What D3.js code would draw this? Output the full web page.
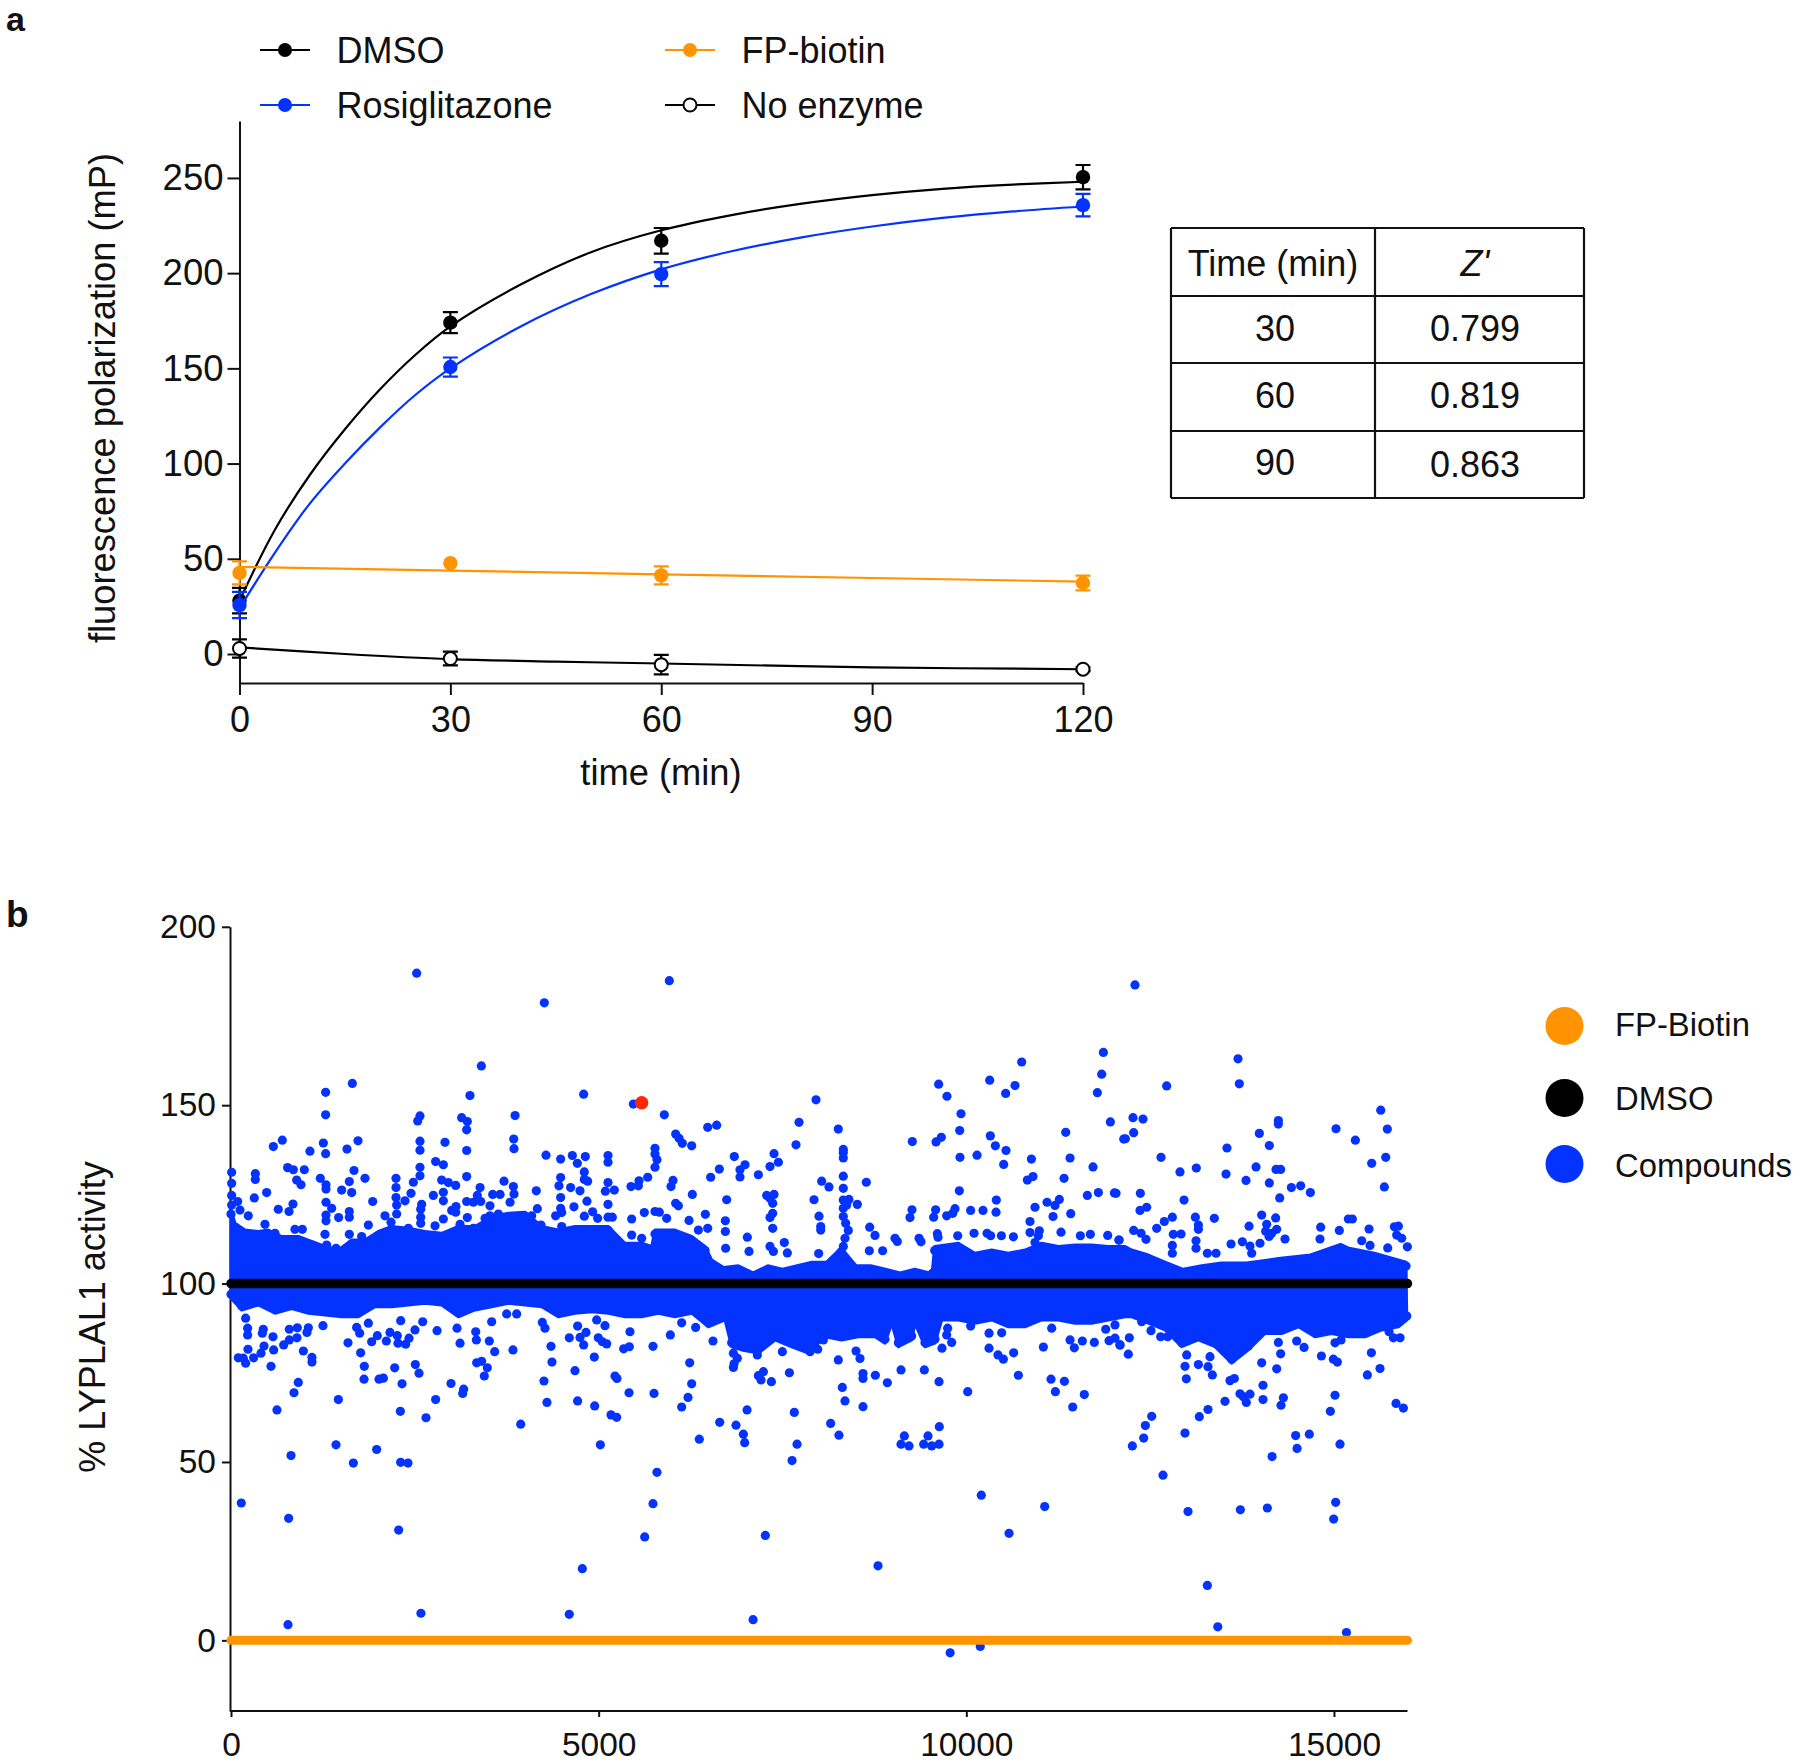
<!DOCTYPE html>
<html><head><meta charset="utf-8">
<style>
html,body{margin:0;padding:0;background:#fff;}
svg{display:block;}
text{font-family:"Liberation Sans",Arial,sans-serif;fill:#111;}
</style>
<script src="https://cdn.jsdelivr.net/npm/d3@7"></script>
</head><body><svg id="c" width="1800" height="1764"></svg>
<script>
// ---------- panel a data ----------
const timeTicks=[0,30,60,90,120];
const fpTicks=[0,50,100,150,200,250];
const sampleTimes=[0,30,60,120];
const dmsoMean=[28,174,217,250.4];
const dmsoErr=[6.7,5.5,6.7,6.4];
const rosiMean=[25.7,150.7,199.5,235.7];
const rosiErr=[6.9,5,6.3,5.9];
const fpMean=[42.6,47.7,41.3,37.3];
const fpErr=[6,0,4.7,3.9];
const noEnzMean=[2.9,-2.4,-5.6,-8];
const noEnzErr=[4.8,3.6,5.1,1];
const curveTimes=[0,5,10,15,20,25,30,40,50,60,70,80,90,100,110,120];
const dmsoCurve=[28,65,94,118,139,157,172,194,211,222.5,230.5,236.5,241,244.3,246.5,248];
const rosiCurve=[24,53,79,100,119,136,150,172,189,202,211.5,218.8,224.5,229,232.4,235];
const fpCurveTimes=[0,30,60,90,120];
const fpCurve=[45.8,43.8,41.8,39.9,38];
const noEnzCurveTimes=[0,15,30,45,60,90,120];
const noEnzCurve=[3.5,0,-2.7,-4,-5,-7,-8];
const tableHead=["Time (min)","Z'"];
const tableTime=["30","60","90"];
const tableZ=["0.799","0.819","0.863"];

// ---------- panel b data ----------
const activityTicks=[0,50,100,150,200];
const compoundTicks=[0,5000,10000,15000];
const controlRange=[0,16000];
const dmsoLevel=100, fpBiotinLevel=0;
const hitPoint=[5585,150.7];
// edge of the solid cloud of compounds
const bandUpper=[[0,120.6],[54,116.9],[190,115],[371,114.6],[507,115],[689,113.2],[916,113.2],[1097,111.8],[1278,110.4],[1460,109.4],[1641,112.2],[1822,112.2],[2004,114.6],[2185,116],[2412,115.5],[2638,114.6],[2865,114.1],[3092,116],[3319,116],[3545,118.8],[3772,119.7],[3999,120],[4225,116],[4451,115],[4678,116],[4905,116],[5132,116],[5358,111.3],[5585,111.3],[5721,110.4],[5766,115],[6038,115],[6265,113.2],[6447,110.4],[6537,106.6],[6700,104.5],[6900,105],[7100,103],[7300,105],[7500,104],[7700,105],[7900,106],[8100,106],[8300,110],[8500,105],[8700,105],[8900,104],[9100,103],[9300,104],[9500,103],[9540,104],[9570,110.4],[9892,111.3],[10118,108.5],[10345,109.4],[10572,108.5],[10798,109.4],[11025,111.3],[11252,110.4],[11479,110.8],[11705,110.8],[11932,110.4],[12159,110.4],[12249,109.4],[12475,108],[12702,106],[12950,104],[13200,105],[13470,105.8],[13810,105.8],[14245,107],[14680,108],[15090,111],[15190,110],[15550,108.5],[15980,106]];
const bandLower=[[0,95.9],[145,92.6],[371,94],[598,91.7],[825,93],[1052,91.7],[1278,91.2],[1505,90.7],[1732,90.7],[1958,93.5],[2185,93.5],[2412,94],[2638,94.5],[2865,94],[3092,90.7],[3319,92.6],[3545,93.5],[3772,94.5],[3999,94],[4225,93.5],[4451,90.7],[4678,91.7],[4905,92.1],[5132,91.7],[5358,90.7],[5585,90.7],[5812,91.7],[6038,90.7],[6265,91.7],[6492,87.9],[6718,89.8],[6809,82.3],[6945,81.4],[7172,80.5],[7399,84.2],[7625,82.3],[7852,80.5],[8079,85.1],[8305,84.2],[8531,85.1],[8758,85.1],[8894,83.3],[8985,88.9],[9076,82.3],[9257,84.2],[9302,88.9],[9438,82.3],[9574,83.3],[9665,89.8],[9892,89.8],[10118,88.9],[10345,89.8],[10572,87.9],[10798,87.9],[11025,89.8],[11252,89.8],[11479,88.9],[11705,88.9],[11932,89.8],[12159,90.7],[12249,90.7],[12475,88.9],[12702,87],[12929,82.3],[13156,84.2],[13382,82.3],[13609,77.7],[13836,81.4],[14062,86],[14289,86],[14516,87.9],[14742,85.1],[14969,86],[15196,85.1],[15423,85.1],[15649,87],[15876,87.9],[15990,89.8]];
const compoundsHigh1=[[2525,187],[3405,161],[1650,156.1],[1287,153.6],[3250,152.7],[1287,147.3],[3863,147.1],[2570,147],[2539,145.6],[3137,146.5],[3214,145.4],[3205,143.1],[698,140.2],[576,138.4],[1256,139.4],[1727,140],[1577,137.7],[1074,137.1],[1287,136.4],[2570,139.9],[2570,137.4],[2910,139.6],[3205,137.3],[3845,140.5],[3849,137.8],[2783,134.2],[2888,133.3],[2570,132.6],[770,132.5],[848,131.9],[997,131.9],[9,131.2],[331,130.8],[331,129.2],[9,128.1],[1673,131.7],[1215,129.5],[1822,129.5],[2244,129.5],[2570,130.2],[2480,128.4],[2865,129],[2956,128.3],[3056,127.5],[3205,130],[3713,128.7],[3840,127.2],[3387,126.9],[893,129],[952,127.7],[1292,127.7],[1292,126.5],[1609,128.6],[1505,126.2],[1641,125.5],[2244,126.9],[485,125.5],[2448,125.3],[2752,124.7],[2888,125.6],[2888,123.2],[3559,125],[3659,125],[3849,125.1],[317,124],[9,124.7],[9,122],[90,123],[1927,123],[1292,122.8],[2244,124.1],[2253,122],[2366,123.2],[3205,123],[3296,122.8],[3396,123],[3350,124.7],[3795,122.8],[843,122.3],[643,120.8],[789,120.2],[1369,121.1],[1609,120.2],[1609,118.6],[1292,119.2],[1292,117.6],[1464,118.5],[2593,122.2],[2580,120.8],[2580,118.6],[2580,116.9],[3060,121.6],[3001,120.5],[3056,120],[2888,118.1],[3522,121.8],[3522,119],[3455,118.3],[3214,118.5],[2094,119],[2253,119.5],[235,119],[122,120.6],[462,116.6],[1868,116.4],[2176,117.2],[2775,116.2],[3115,116.6],[3636,119.5],[870,115.2],[970,115.2],[1278,113.8],[1609,113.8],[598,114.1],[2412,115.5],[3522,115.5],[3296,115.5],[1777,113.2],[1301,110.8],[1428,109.9]];
const compoundsHigh2=[[5961,184.9],[4261,178.7],[4796,153.1],[5472,150.3],[5893,147.3],[7956,151.5],[7725,145.2],[6605,144.4],[6483,143.8],[6047,141.9],[6093,140.7],[6138,139.3],[6265,138.6],[7684,138.9],[5766,137.9],[5766,136.3],[5793,134.7],[5766,132.6],[4284,136],[4483,134.9],[4642,135.9],[4819,135.6],[4710,133.7],[5127,135.9],[5127,134],[4805,131.3],[4805,129.2],[4850,128.7],[4483,129.7],[4460,127.4],[4619,126.9],[4746,126],[4152,126],[5127,128.3],[5091,125.9],[5213,126.2],[5440,127.2],[5540,127.4],[5549,128.8],[5667,129.8],[6011,128.9],[5984,127.2],[6274,125],[6523,129.8],[6641,132.1],[6845,135.6],[6990,133.3],[6922,131.9],[6922,129.9],[7172,130.5],[7330,132.8],[7385,136.4],[7444,134],[8033,128.7],[4483,124.1],[4841,123.1],[5127,122.2],[6047,122.5],[6084,121.8],[6741,123.5],[7285,124.7],[7385,125],[7330,123.9],[7367,122.5],[7929,123.5],[4166,121],[4664,121.5],[4483,121.1],[4415,119],[4497,119.9],[4805,118.9],[4918,120.1],[4986,118.3],[5127,118.6],[5186,118.6],[5449,118.1],[5621,119.9],[5766,120.2],[5825,120],[5925,118.3],[6229,117.7],[6451,119.4],[6723,117.6],[6723,114.6],[7367,119.7],[7330,118.5],[7367,115.5],[7997,118.9],[8020,116],[8020,115],[7022,113],[7525,111.5],[7566,108.6],[7330,110.4],[7376,109],[7045,109],[6727,109.9],[7992,108.4],[4216,116.4],[4089,119],[4497,116],[5449,113.6],[5585,112.7],[6483,115.5],[6356,115]];
const compoundsHigh3=[[11864,164.8],[10753,162.1],[11841,158.7],[9624,155.9],[10318,157],[10662,155.5],[10535,153.3],[9737,152.5],[11782,153.5],[9928,147.6],[11959,145.3],[8259,143.3],[9910,142.9],[11352,142.4],[10327,141.4],[9266,139.8],[9588,139.7],[9660,141],[10395,138.6],[10540,137.3],[12141,140.5],[8327,137.6],[8327,135.2],[8327,136.7],[9914,135.4],[10146,136],[10508,133.4],[10885,134.9],[11411,135.2],[11723,132.7],[8327,130.1],[8640,128.4],[8132,127.1],[10907,130],[10830,129],[11329,129.5],[8327,126.7],[9905,126],[11646,124.7],[11796,125.5],[12014,125.4],[8327,123.4],[8404,123.6],[8518,122.2],[8327,121.1],[8373,122],[8327,118.8],[8359,116.9],[8395,114.9],[8350,112.7],[8327,110.4],[10408,123.4],[11098,122.8],[11265,123.6],[11206,121.9],[10934,121.4],[9261,120.7],[9234,118.5],[9583,120.7],[9556,118.6],[9846,121],[9815,119.7],[9733,119],[10059,120.5],[10227,120.5],[10404,120],[11179,118.8],[11420,119.6],[10866,117.4],[8686,115.8],[8758,113.5],[9030,112.7],[9062,111.8],[9357,112.7],[9384,111.7],[9606,114],[9615,113],[9883,113.4],[10105,114.1],[10282,114.1],[10331,113.4],[10477,113.4],[10640,113.1],[10866,114.3],[10993,114.8],[10980,113.4],[10934,111.5],[11288,114.4],[11551,113.4],[11687,113.8],[11923,113.5],[12077,112.2],[8681,109.2],[8862,109.2]];
const compoundsHigh4=[[12294,183.7],[13695,163],[12725,155.4],[13713,156],[15636,148.6],[12267,146.5],[12403,146.1],[14244,145.7],[14244,144.7],[15028,143.4],[15726,143.3],[12276,142.3],[12163,140.6],[13985,142.1],[14121,138.7],[15291,140.2],[13545,138],[12648,135.4],[15704,135.4],[15513,133.7],[12906,131.3],[13128,132.4],[13532,130.7],[13940,132.7],[14212,132],[14275,132],[13804,128.9],[14121,128.2],[14421,126.9],[14547,127.4],[14679,125.5],[15685,127.1],[12367,125.3],[12036,125.3],[12961,123.4],[14262,124],[12453,121.4],[12362,120.5],[12802,118.6],[12693,117.4],[12589,115.5],[13115,118.6],[13156,116.4],[13156,115.2],[13373,118.3],[14017,119.2],[14207,118.4],[13845,116.1],[14085,116.6],[14071,114.7],[14221,115.2],[14153,114.1],[14117,113.2],[15196,118.1],[15250,118.1],[14819,115.8],[15073,114.9],[15477,115.3],[15822,115.9],[15876,116.1],[15853,113.6],[15921,112.7],[14334,112.5],[14810,112.5],[12276,114.9],[12376,114.1],[12444,112.4],[12815,113.8],[12920,113.9],[12802,110.7],[12802,108.5],[13124,112],[13124,109.9],[13278,108.5],[13396,108.5],[13600,111.1],[13754,111.7],[13858,110.5],[13881,108.5],[13994,111.3],[15377,112],[15490,110.7],[15731,110],[15998,110.3],[12076,112.2]];
const compoundsLow1=[[140,38.5],[784,34.2],[2280,30.9],[816,51.8],[1428,54.8],[1664,49.7],[1981,53.5],[2307,49.9],[2407,49.7],[3940,60.6],[2652,62.4],[2303,64.2],[625,64.6],[1460,67.5],[857,69.4],[915,72.3],[2783,67.5],[3151,69.2],[3164,70.4],[2992,72],[2326,71.9],[1809,73.2],[2013,73.2],[2072,73.5],[2557,74.9],[2507,77.3],[2226,76.4],[1813,76.8],[544,76.8],[199,77.7],[99,79.2],[308,79.2],[1101,78],[1101,79.3],[984,81.1],[580,81.4],[408,80.5],[449,82.5],[231,81.6],[167,79.1],[716,82.8],[793,84.2],[897,84.8],[571,85.1],[426,86.1],[439,87.2],[793,87.2],[902,87.6],[1033,86.3],[1052,87.6],[1251,88.2],[226,85.6],[226,87.5],[199,90.3],[1591,83.4],[1763,80.6],[1750,86.1],[1709,87.7],[1868,88.9],[1913,83.7],[1990,85.4],[2113,83.9],[2162,86.3],[2262,85.4],[2271,83.3],[2375,83],[2421,84.7],[2502,87],[2607,89.3],[2308,89.6],[2802,86.8],[3074,87.5],[3115,83.3],[3328,86.5],[3337,84.2],[3513,83.9],[3586,80.9],[3835,81.4],[3341,77.8],[3409,78.2],[3486,76.4],[3445,74.1],[3545,89.3],[3749,91.5],[3885,91.5],[775,4.4],[2583,7.6]];
const compoundsLow2=[[4778,20.1],[5626,29],[7267,29.4],[5739,38.3],[5793,47.1],[5023,54.8],[7630,50.4],[7698,55],[6369,56.4],[6986,55.4],[6968,57.8],[6868,60.3],[6646,61.1],[7018,64.6],[7661,63.9],[6129,65.4],[6215,68.1],[6265,71.9],[5168,63.2],[5245,62.5],[4946,65.7],[4714,67.1],[4297,66.7],[4256,72.7],[4678,75.6],[4365,78],[4941,79.4],[5222,74.1],[5249,73.4],[5413,69.4],[5753,69.2],[6238,77.8],[4352,82.4],[4601,84.8],[4746,84.9],[4796,82.8],[4828,86.3],[4995,84.8],[5050,83.7],[5109,83.1],[5340,81.7],[5417,82.3],[5739,82.4],[5426,86.5],[5975,85.6],[6555,83.9],[6832,80.5],[6886,79.1],[6841,77.5],[6832,76.5],[7172,74.2],[7208,73],[7240,75.3],[7349,72.5],[7594,75],[4270,87.5],[4234,89.1],[4714,88.1],[4973,89.8],[5086,88.2],[6129,89],[6319,87.7],[8056,84.2],[7158,80],[7498,80.9],[7875,80.9],[7979,81.6],[4600,7.3],[7100,5.8]];
const compoundsLow3=[[8799,20.9],[10581,30],[11066,37.5],[10204,40.7],[8268,57.5],[8155,60.8],[9633,59.9],[9157,57.3],[9479,57.3],[9112,55],[9221,54.5],[9420,55],[9529,54.5],[9629,55],[8595,65.5],[8350,67.1],[11447,65.4],[11605,68.9],[11211,69.7],[10019,69.7],[8314,70.9],[11152,73.2],[11334,72.6],[9629,72.5],[8926,72.2],[8595,74.8],[8595,73.4],[8763,74.3],[9112,75.8],[9429,75.8],[10708,74.3],[8259,78.6],[8554,79],[8500,81.1],[10431,80],[10504,78.8],[10644,80.6],[10309,81.9],[11048,82.2],[9669,81.9],[9746,87.5],[9733,85.6],[9801,83.5],[11469,82],[11411,84.2],[11578,83.9],[11941,84],[12022,84.7],[12090,82.8],[10309,86.1],[10481,86.2],[10059,88.1],[12022,88.4],[11896,87.2],[11741,83.5],[11161,87.5],[9780,-3.5],[10190,-1.7]];
const compoundsLow4=[[13278,15.4],[13015,36.1],[13727,36.6],[14094,37.1],[15023,38.7],[14996,34],[12675,46.3],[12258,54.5],[12412,56.7],[12435,60.2],[12521,62.8],[12974,58.1],[13169,62.7],[13287,64.7],[13518,67],[13808,66.7],[13722,69.1],[13858,69],[13768,68.3],[14035,67.5],[14035,71.5],[14280,65.9],[14312,68],[14158,51.5],[14479,57.4],[14665,57.8],[14498,53.8],[15082,55],[14951,64.2],[15014,68.7],[15844,66.4],[15944,65.1],[15454,74.4],[15626,76.2],[13586,72.8],[13645,73.4],[13346,74.4],[12992,73.3],[12974,76.8],[13156,77.3],[13287,76.7],[13314,79.5],[14017,77.8],[14221,76.1],[14275,80.3],[14593,82.1],[14493,83.9],[14829,79.7],[14992,78.8],[15046,78],[15509,80.6],[15014,83.4],[15096,84.2],[12203,80.2],[12090,82.8],[12217,84.8],[12385,89.3],[12512,86.8],[12643,85.1],[12738,85.1],[12997,80],[15899,84.8],[15808,84.8],[15749,86.5],[14244,83.5],[13420,3.8],[15170,2.2]];

// ---------- colours ----------
const BLUE="#0433FF", ORANGE="#FF9300", RED="#FF2600", BLACK="#000";
const svg=d3.select("#c");

function styleAxis(g,size,w){
  g.selectAll("path.domain").attr("stroke","#111").attr("stroke-width",w);
  g.selectAll(".tick line").attr("stroke","#111").attr("stroke-width",w);
  g.selectAll(".tick text").attr("font-size",size).attr("font-family",'"Liberation Sans",Arial,sans-serif').attr("fill","#111");
}

// ---------- panel a ----------
const xA=d3.scaleLinear().domain([0,120]).range([239.5,1083]);
const yA=d3.scaleLinear().domain([-15.23,279.9]).range([683,121]);
const gA=svg.append("g");
const axAy=gA.append("g").attr("transform",`translate(${xA(0)},0)`).call(d3.axisLeft(yA).tickValues(fpTicks).tickSize(12).tickPadding(4).tickSizeOuter(0));
styleAxis(axAy,36.5,2);
const axAx=gA.append("g").attr("transform",`translate(0,${yA.range()[0]})`).call(d3.axisBottom(xA).tickValues(timeTicks).tickSize(12).tickPadding(11).tickSizeOuter(0));
styleAxis(axAx,36,2);

const seriesA=[
 {name:"No enzyme",mean:noEnzMean,err:noEnzErr,ct:noEnzCurveTimes,c:noEnzCurve,col:BLACK,hollow:true,smooth:true},
 {name:"DMSO",mean:dmsoMean,err:dmsoErr,ct:curveTimes,c:dmsoCurve,col:BLACK,smooth:true},
 {name:"Rosiglitazone",mean:rosiMean,err:rosiErr,ct:curveTimes,c:rosiCurve,col:BLUE,smooth:true},
 {name:"FP-biotin",mean:fpMean,err:fpErr,ct:fpCurveTimes,c:fpCurve,col:ORANGE,smooth:false}
];
seriesA.forEach(s=>{
  const line=d3.line().x((d,i)=>xA(s.ct[i])).y(d=>yA(d)).curve(s.smooth?d3.curveCatmullRom.alpha(0.5):d3.curveLinear);
  gA.append("path").attr("d",line(s.c)).attr("fill","none").attr("stroke",s.col).attr("stroke-width",2.2);
  sampleTimes.forEach((t,i)=>{
    if(s.err[i]>0){
      const x=xA(t),y0=yA(s.mean[i]-s.err[i]),y1=yA(s.mean[i]+s.err[i]);
      gA.append("path").attr("d",`M${x-7.5},${y0}H${x+7.5}M${x-7.5},${y1}H${x+7.5}M${x},${y0}V${y1}`)
        .attr("fill","none").attr("stroke",s.col).attr("stroke-width",2.2);
    }
    gA.append("circle").attr("cx",xA(t)).attr("cy",yA(s.mean[i])).attr("r",s.hollow?6.5:7.2)
      .attr("fill",s.hollow?"#fff":s.col).attr("stroke",s.hollow?s.col:"none").attr("stroke-width",2);
  });
});
// legend a
const legendA=[
 {name:"DMSO",col:BLACK,lx:260,ty:50},{name:"Rosiglitazone",col:BLUE,lx:260,ty:105},
 {name:"FP-biotin",col:ORANGE,lx:665,ty:50},{name:"No enzyme",col:BLACK,lx:665,ty:105,hollow:true}];
legendA.forEach(l=>{
  gA.append("line").attr("x1",l.lx).attr("x2",l.lx+50).attr("y1",l.ty).attr("y2",l.ty).attr("stroke",l.col).attr("stroke-width",2.2);
  gA.append("circle").attr("cx",l.lx+25).attr("cy",l.ty).attr("r",l.hollow?6.5:7).attr("fill",l.hollow?"#fff":l.col).attr("stroke",l.hollow?l.col:"none").attr("stroke-width",2);
  gA.append("text").attr("x",l.lx+76.5).attr("y",l.ty+12.5).attr("font-size",36).text(l.name);
});
gA.append("text").attr("x",661).attr("y",785).attr("text-anchor","middle").attr("font-size",36.3).text("time (min)");
gA.append("text").attr("transform","translate(115,398) rotate(-90)").attr("text-anchor","middle").attr("font-size",36.3).text("fluorescence polarization (mP)");
svg.append("text").attr("x",6).attr("y",31).attr("font-size",34).attr("font-weight","bold").text("a");
svg.append("text").attr("x",6).attr("y",927).attr("font-size",37).attr("font-weight","bold").text("b");

// table
const tX=[1171,1375,1584], tY=[228,296,363,431,498];
const gT=svg.append("g").attr("stroke","#111").attr("stroke-width",2.2);
tY.forEach(y=>gT.append("line").attr("x1",tX[0]).attr("x2",tX[2]).attr("y1",y).attr("y2",y));
tX.forEach(x=>gT.append("line").attr("x1",x).attr("x2",x).attr("y1",tY[0]).attr("y2",tY[4]));
svg.append("text").attr("x",1273).attr("y",276).attr("text-anchor","middle").attr("font-size",36).text(tableHead[0]);
svg.append("text").attr("x",1475).attr("y",276).attr("text-anchor","middle").attr("font-size",36).attr("font-style","italic").text(tableHead[1]);
const rowTextY=[341,408,475], zTextY=[341,408,477];
tableTime.forEach((t,i)=>{
  svg.append("text").attr("x",1275).attr("y",rowTextY[i]).attr("text-anchor","middle").attr("font-size",36).text(t);
  svg.append("text").attr("x",1475).attr("y",zTextY[i]).attr("text-anchor","middle").attr("font-size",36).text(tableZ[i]);
});

// ---------- panel b ----------
const xB=d3.scaleLinear().domain(controlRange).range([231,1407.5]);
const yB=d3.scaleLinear().domain([-19.8,200]).range([1711,926.8]);
const gB=svg.append("g");
const axBy=gB.append("g").attr("transform","translate(230,0)").call(d3.axisLeft(yB).tickValues(activityTicks).tickSize(8).tickPadding(6).tickSizeOuter(0));
styleAxis(axBy,33.5,2);
const axBx=gB.append("g").attr("transform",`translate(0,1711)`).call(d3.axisBottom(xB).tickValues(compoundTicks).tickFormat(d3.format("d")).tickSize(6).tickPadding(15).tickSizeOuter(0));
styleAxis(axBx,33.5,2);
axBx.select("path.domain").attr("d","M230,0H1407.5");

const compounds=[...compoundsHigh1,...compoundsHigh2,...compoundsHigh3,...compoundsHigh4,
                 ...compoundsLow1,...compoundsLow2,...compoundsLow3,...compoundsLow4];
const bandLine=d3.line().x(d=>xB(d[0])).y(d=>yB(d[1]));
gB.append("path").attr("d",bandLine(bandUpper.concat(bandLower.slice().reverse()))+"Z")
  .attr("fill",BLUE).attr("stroke",BLUE).attr("stroke-width",3).attr("stroke-linejoin","round");
// scalloped rim of the cloud
gB.selectAll("circle.rim").data(bandUpper.concat(bandLower)).join("circle")
  .attr("class","rim").attr("cx",d=>xB(d[0])).attr("cy",(d,i)=>yB(d[1]+(i<bandUpper.length?-1.1:1.1))).attr("r",4.6).attr("fill",BLUE);
gB.selectAll("circle.cmp").data(compounds).join("circle")
  .attr("class","cmp").attr("cx",d=>xB(d[0])).attr("cy",d=>yB(d[1])).attr("r",4.6).attr("fill",BLUE);
gB.append("line").attr("x1",xB(controlRange[0])).attr("x2",xB(controlRange[1])).attr("y1",yB(dmsoLevel)).attr("y2",yB(dmsoLevel))
  .attr("stroke",BLACK).attr("stroke-width",9.5).attr("stroke-linecap","round");
gB.append("line").attr("x1",xB(controlRange[0])).attr("x2",xB(controlRange[1])).attr("y1",yB(fpBiotinLevel)).attr("y2",yB(fpBiotinLevel))
  .attr("stroke",ORANGE).attr("stroke-width",9).attr("stroke-linecap","round");
gB.append("circle").attr("cx",xB(hitPoint[0])).attr("cy",yB(hitPoint[1])).attr("r",6.7).attr("fill",RED);

gB.append("text").attr("transform","translate(105,1317) rotate(-90)").attr("text-anchor","middle").attr("font-size",36).text("% LYPLAL1 activity");
[{n:"FP-Biotin",c:ORANGE,cy:1026,ty:1036},{n:"DMSO",c:BLACK,cy:1098,ty:1110},{n:"Compounds",c:BLUE,cy:1164,ty:1177}].forEach(l=>{
  gB.append("circle").attr("cx",1564.5).attr("cy",l.cy).attr("r",19).attr("fill",l.c);
  gB.append("text").attr("x",1615).attr("y",l.ty).attr("font-size",32.8).text(l.n);
});
</script></body></html>
